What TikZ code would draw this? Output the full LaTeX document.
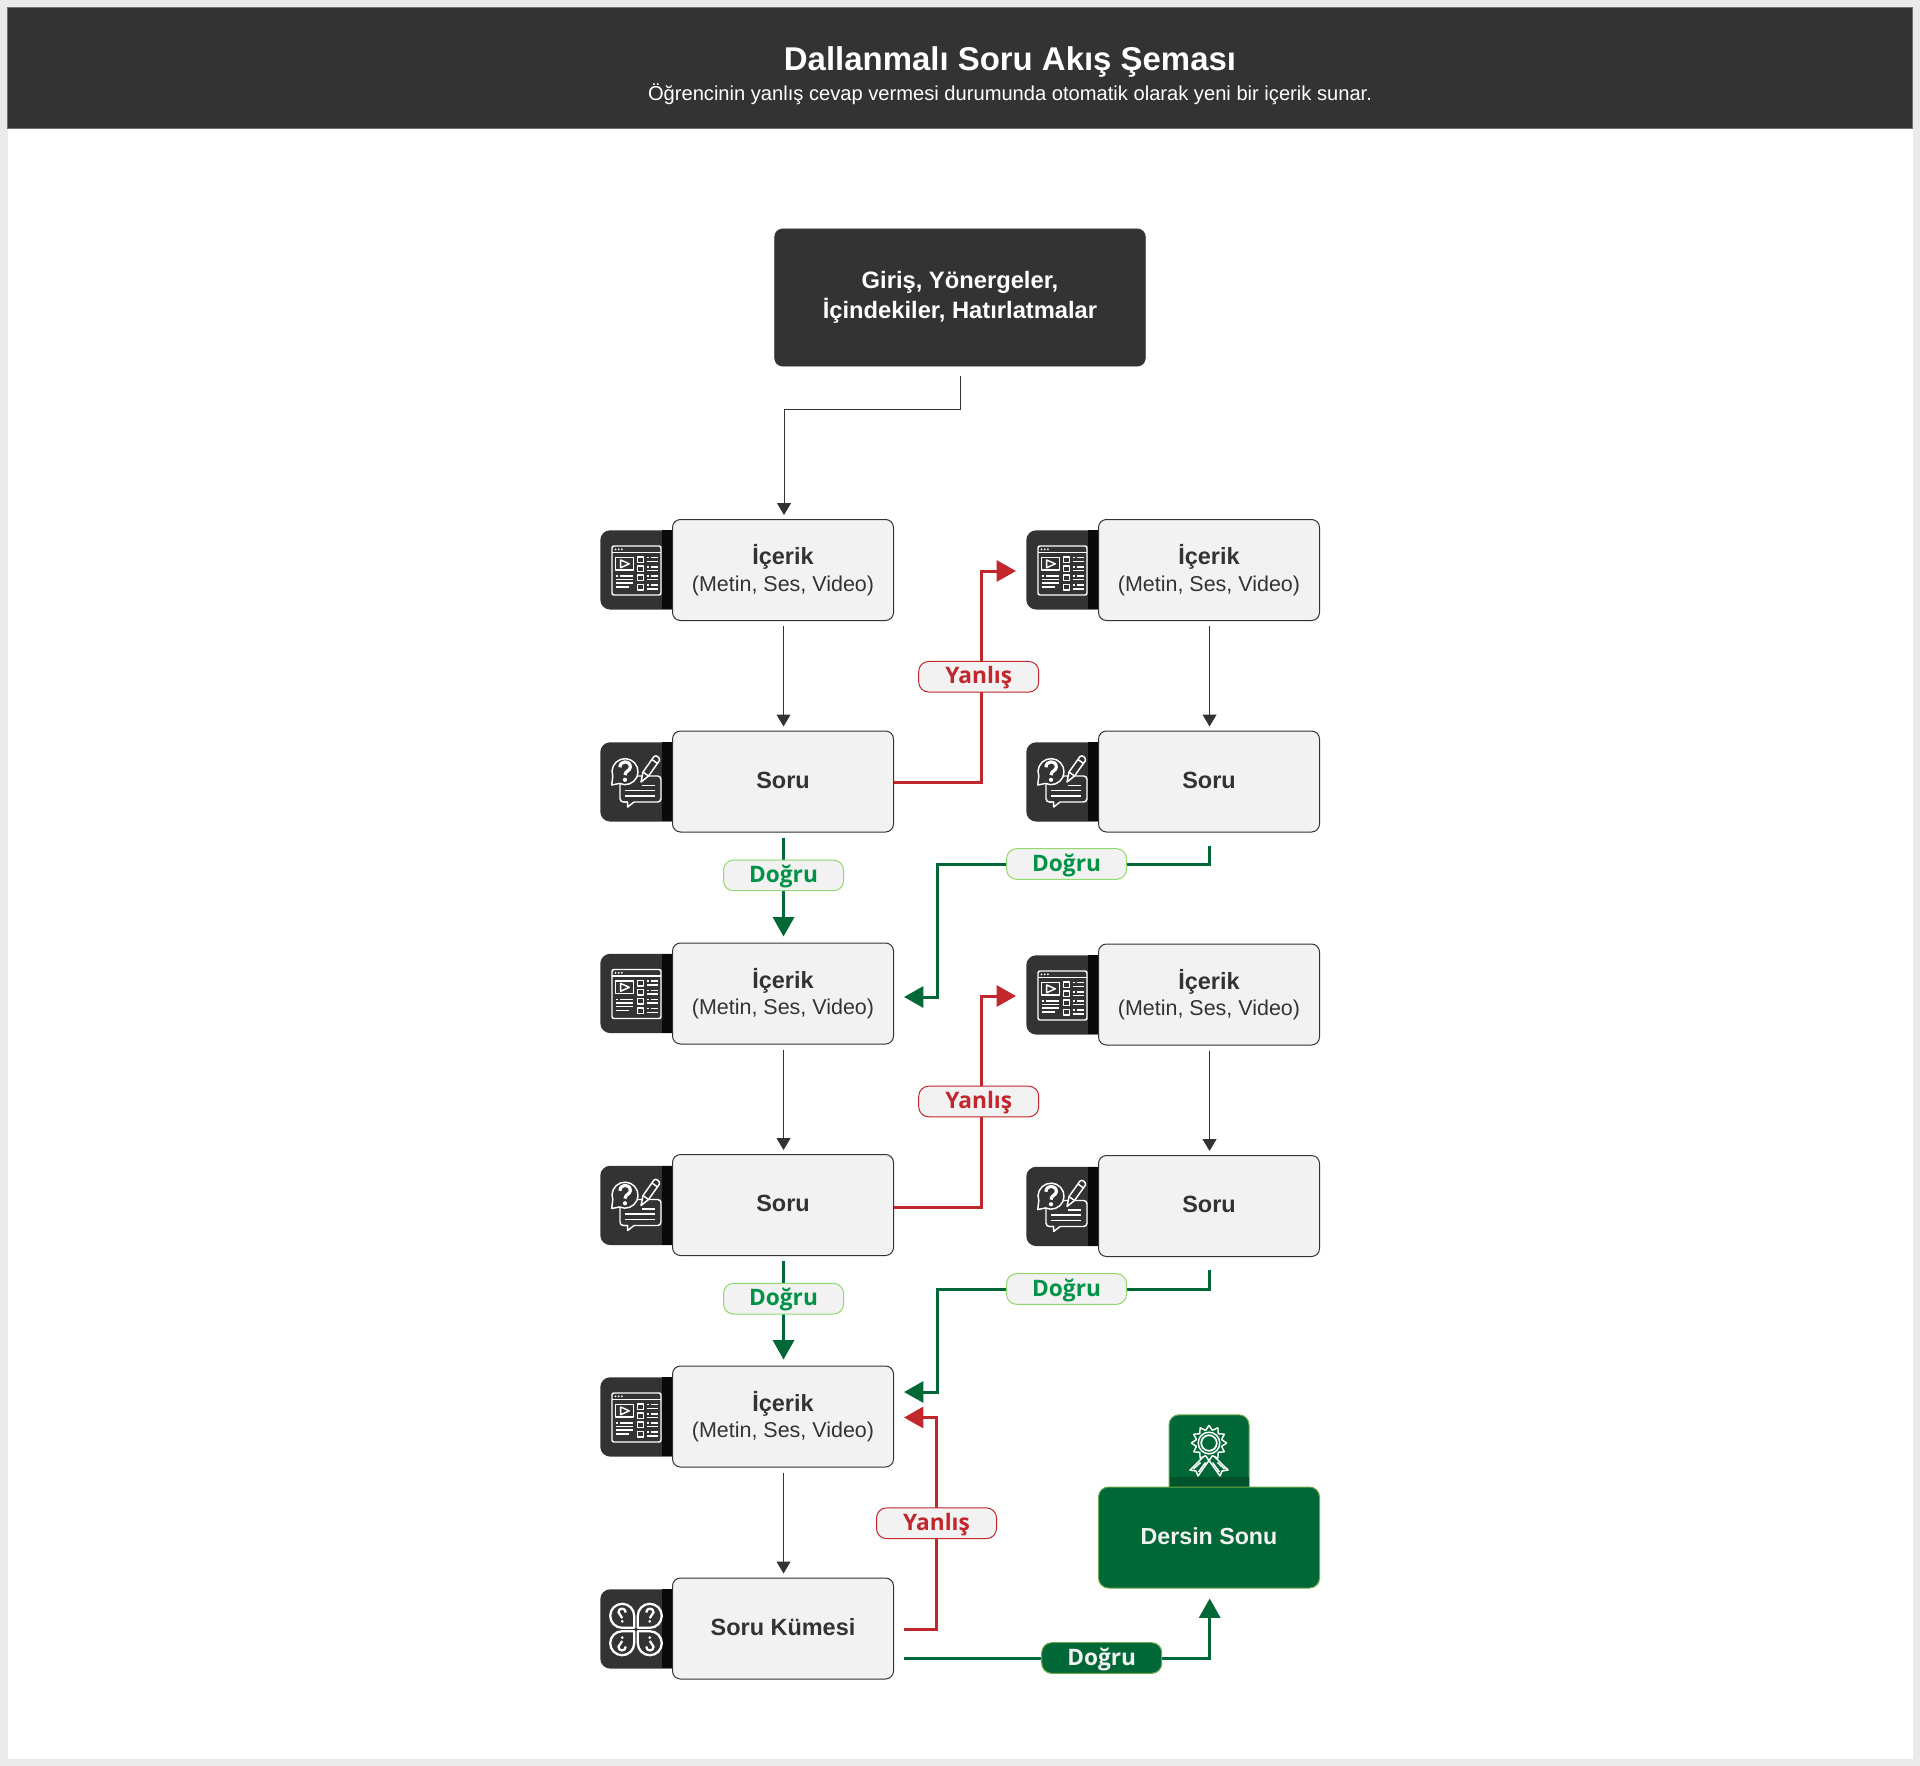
\documentclass[tikz,border=0pt]{standalone}
\usepackage{fontspec}
\setmainfont{Liberation Sans}
\newfontfamily\labelfont{Open Sans}
\usetikzlibrary{arrows.meta,calc}
\definecolor{dark}{HTML}{333333}
\definecolor{strip}{HTML}{0A0A0A}
\definecolor{boxfill}{HTML}{F2F2F2}
\definecolor{pagebg}{HTML}{EAEAEA}
\definecolor{forest}{HTML}{006837}
\definecolor{forestdk}{HTML}{00522C}
\definecolor{olive}{HTML}{6FA84B}
\definecolor{lime}{HTML}{8FD96F}
\definecolor{okgreen}{HTML}{009245}
\definecolor{wrong}{HTML}{C1272D}
\newcommand\fs[2]{\fontsize{#1}{#2}\selectfont}
\newcommand\qmk[4]{% x, y, scale, width
  \begin{scope}[shift={(#1,#2)},scale=#3]
    \draw[iconline,line width=#4] (-3.6,-3) .. controls (-3.6,-8.2) and (3.8,-8.2) .. (3.8,-3.2) .. controls (3.8,-0.4) and (0,-0.6) .. (0,2.6);
    \fill[white] (0,5.9) circle (1.5);
  \end{scope}}
\newcommand\tilerow[4]{% name, x, y, pic
  \node[tile,anchor=north west] (#1) at (#2,#3) {};
  \pic at (#2,#3) {#4};}
\newcommand\content{İçerik\\[-1.2pt]{\mdseries\fs{16.1}{21}(Metin, Ses, Video)}}
\tikzset{
  x=.75pt,y=-.75pt,
  iconline/.style={draw=white,line width=1.1pt,line join=round},
  tile/.style={fill=dark,rounded corners=7.5pt,minimum width=63pt,minimum height=59.5pt,inner sep=0pt},
  cardbox/.style={draw=dark,fill=boxfill,line width=.75pt,rounded corners=6pt,minimum width=165.75pt,minimum height=75.75pt,inner sep=0pt,align=center,text=dark,font=\fs{17.6}{21}\bfseries},
  oneline/.style={text depth=2.4pt},
  endbox/.style={draw=olive,fill=forest,line width=.75pt,rounded corners=7.5pt,minimum width=165.75pt,minimum height=75.75pt,inner sep=0pt,text=boxfill,font=\fs{17.4}{21}\bfseries},
  startbox/.style={draw=dark,fill=dark,rounded corners=6pt,minimum width=278pt,minimum height=103pt,inner sep=0pt,align=center,text=white,font=\fs{17.8}{22.5}\bfseries},
  thinflow/.style={draw=dark,line width=.75pt,-{Triangle[length=9pt,width=10.5pt]}},
  goodflow/.style={draw=forest,line width=2.25pt,-{Triangle[length=14.5pt,width=15.75pt]}},
  badflow/.style={draw=wrong,line width=2.25pt,-{Triangle[length=14.5pt,width=15.75pt]}},
  pilltag/.style={rounded corners=7.5pt,line width=.75pt,minimum width=90pt,minimum height=23pt,inner sep=0pt,text height=14.5pt,text depth=4pt,font=\labelfont\fs{17}{20}\bfseries},
  goodtag/.style={pilltag,draw=lime,fill=boxfill,text=okgreen},
  badtag/.style={pilltag,draw=wrong,fill=boxfill,text=wrong},
  endtag/.style={pilltag,draw=olive,fill=forest,text=boxfill},
  videoicon/.pic={
    \fill[strip] (62,0) rectangle (72,79.3);
    \draw[iconline,rounded corners=1.5pt] (12,16) rectangle (61,65);
    \draw[iconline] (12,22.5) -- (61,22.5);
    \foreach \dx in {15.5,18.7,21.9} \fill[white] (\dx,19.3) circle (1);
    \draw[iconline] (15.7,27.7) rectangle (33.3,40);
    \draw[iconline] (20.7,30) -- (20.7,37.7) -- (29.3,33.8) -- cycle;
    \foreach \sy in {27,36.2,45.2,54.6}{
      \draw[iconline] (37.7,\sy) rectangle (43.3,\sy+5.3);
      \draw[iconline] (46.7,\sy+.6) -- (49,\sy+.6) (50.5,\sy+.6) -- (57.7,\sy+.6);
      \draw[iconline] (46.7,\sy+4.4) -- (57.7,\sy+4.4);
    }
    \draw[iconline] (19.5,46) -- (33.3,46) (15.7,46) -- (17.6,46);
    \draw[iconline] (15.7,49.4) -- (33.3,49.4) (15.7,52.8) -- (33.3,52.8) (15.7,56.8) -- (29,56.8);
  },
  askicon/.pic={
    \fill[strip] (62,0) rectangle (72,79.3);
    \draw[iconline,rounded corners=2.5pt] (20,34) -- (61,34) -- (61,60) -- (34,60);
    \draw[iconline] (34,60) -- (27.7,65) -- (27.7,60) -- (23,60);
    \draw[iconline,rounded corners=2.5pt] (27.7,60) -- (20,60) -- (20,34);
    \draw[iconline] (41.5,43.7) -- (55,43.7) (25,48.7) -- (55,48.7) (25,54) -- (55,54);
    \filldraw[iconline,fill=dark] (12.8,34.1) arc[start angle=160,end angle=475,radius=13] -- (11.7,43) -- cycle;
    \filldraw[iconline,fill=dark] (41,40) -- (43,30) -- (54,14.5) .. controls (56,12.5) and (60,15.5) .. (59.5,18.5) -- (48.5,34) -- cycle;
    \draw[iconline] (43,30) -- (48.5,34) (52,17.5) -- (57.5,21.5);
    \qmk{25}{29.5}{1.4}{2.4pt}
  },
  setpetal/.pic={
    \draw[iconline,line width=1.7pt,rounded corners=9pt,line cap=round] (0,0) -- (24,0) -- (24,-24) -- (0,-24) -- (0,0);
    \qmk{12}{-12.3}{1}{1.7pt}
  },
  seticon/.pic={
    \fill[strip] (62,0) rectangle (72,79.3);
    \pic at (37.8,38.8) {setpetal};
    \pic[xscale=-1] at (34.2,38.8) {setpetal};
    \pic[yscale=-1] at (37.8,42.2) {setpetal};
    \pic[xscale=-1,yscale=-1] at (34.2,42.2) {setpetal};
  },
  ribbon/.pic={
    \draw[iconline] (-5.5,13.7) -- (-19,27) -- (-13,28) -- (-11,33) -- (1,16);
    \draw[iconline] (-8.5,19.5) -- (-15.5,26) (-3.5,19.5) -- (-10.5,29);
  },
  awardicon/.pic={
    \fill[forestdk] (-39.5,34) rectangle (39.5,44);
    \draw[iconline] plot[smooth cycle,tension=.25] coordinates {
      (0:17.5) (15:13.2) (30:17.5) (45:13.2) (60:17.5) (75:13.2) (90:17.5) (105:13.2) (120:17.5) (135:13.2) (150:17.5) (165:13.2)
      (180:17.5) (195:13.2) (210:17.5) (225:13.2) (240:17.5) (255:13.2) (270:17.5) (285:13.2) (300:17.5) (315:13.2) (330:17.5) (345:13.2)};
    \draw[iconline] (0,0) circle (10.8);
    \draw[iconline,line width=1.3pt] (0,0) circle (7.8);
    \pic {ribbon};
    \pic[xscale=-1] {ribbon};
  }
}
\begin{document}
\begin{tikzpicture}
\useasboundingbox (0,0) rectangle (1920,1766);
\fill[pagebg] (0,0) rectangle (1920,1766);
\fill[white] (7.5,7.5) rectangle (1912.5,1758.5);
\filldraw[fill=dark,draw=dark!70!white,line width=.75pt] (7.5,7.5) rectangle (1912.5,128.5);
\node[text=white,font=\fs{24.7}{28}\bfseries,inner sep=0pt] (title) at (1010,61.5) {Dallanmalı Soru Akış Şeması};
\node[text=white,font=\fs{15.1}{17},inner sep=0pt] (subtitle) at (1010,94) {Öğrencinin yanlış cevap vermesi durumunda otomatik olarak yeni bir içerik sunar.};

\node[startbox] (start) at (960,297.5) {Giriş, Yönergeler,\\İçindekiler, Hatırlatmalar};

% left column
\tilerow{i1}{600}{530}{videoicon}
\node[cardbox] (c1) at (783,570) {\content};
\tilerow{i2}{600}{742}{askicon}
\node[cardbox,oneline] (s1) at (783,781.5) {Soru};
\tilerow{i3}{600}{953.5}{videoicon}
\node[cardbox] (c2) at (783,993.5) {\content};
\tilerow{i4}{600}{1165.5}{askicon}
\node[cardbox,oneline] (s2) at (783,1205) {Soru};
\tilerow{i5}{600}{1377}{videoicon}
\node[cardbox] (c3) at (783,1416.5) {\content};
\tilerow{i6}{600}{1589}{seticon}
\node[cardbox,oneline] (s3) at (783,1628.5) {Soru Kümesi};

% right column
\tilerow{j1}{1026}{530}{videoicon}
\node[cardbox] (d1) at (1209,570) {\content};
\tilerow{j2}{1026}{742}{askicon}
\node[cardbox,oneline] (t1) at (1209,781.5) {Soru};
\tilerow{j3}{1026}{955}{videoicon}
\node[cardbox] (d2) at (1209,994.5) {\content};
\tilerow{j4}{1026}{1166.5}{askicon}
\node[cardbox,oneline] (t2) at (1209,1206) {Soru};

% end
\node[draw=olive,fill=forest,line width=.75pt,rounded corners=7.5pt,minimum width=60pt,minimum height=64pt,inner sep=0pt] (endtab) at (1209,1457.5) {};
\pic at (1209,1443) {awardicon};
\node[endbox,oneline] (finish) at (1209,1537.5) {Dersin Sonu};

% thin connectors
\coordinate (t1b) at (960,409);
\coordinate (t2b) at (784,409);
\draw[thinflow,shorten <=7.5pt,shorten >=3pt] (start.south) -- (t1b) -- (t2b) -- (c1.north -| t2b);
\foreach \u/\v in {c1/s1,c2/s2,c3/s3,d1/t1,d2/t2}
  \draw[thinflow,shorten <=3.75pt,shorten >=3pt] ([xshift=.4pt]\u.south) -- ([xshift=.4pt]\v.north);

% correct
\draw[goodflow,shorten <=3.75pt,shorten >=4.5pt] ([xshift=.4pt]s1.south) -- node[goodtag,pos=.39]{Doğru} ([xshift=.4pt]c2.north);
\draw[goodflow,shorten <=3.75pt,shorten >=4.5pt] ([xshift=.4pt]s2.south) -- node[goodtag,pos=.39]{Doğru} ([xshift=.4pt]c3.north);
\coordinate (g1a) at (1209.7,864); \coordinate (g1b) at (937,864); \coordinate (g1c) at (937,997);
\draw[goodflow,shorten <=9.75pt,shorten >=7.5pt] (g1a |- t1.south) -- (g1a) -- node[goodtag,pos=.525]{Doğru} (g1b) -- (g1c) -- (g1c -| c2.east);
\coordinate (g2a) at (1209.7,1289); \coordinate (g2b) at (937,1289); \coordinate (g2c) at (937,1392);
\draw[goodflow,shorten <=9.75pt,shorten >=7.5pt] (g2a |- t2.south) -- (g2a) -- node[goodtag,pos=.525]{Doğru} (g2b) -- (g2c) -- (g2c -| c3.east);
\coordinate (g3s) at (894,1658); \coordinate (g3a) at (1209.7,1658);
\draw[goodflow,shorten <=7.5pt,shorten >=7.5pt] (g3s) -- node[endtag,pos=.658]{Doğru} (g3a) -- (finish.south -| g3a);

% wrong
\coordinate (r1a) at (981,782.5); \coordinate (r1b) at (981,571);
\draw[badflow,shorten >=7.5pt] (s1.east |- r1a) -- (r1a) -- node[badtag,xshift=-1.7pt]{Yanlış} (r1b) -- (r1b -| j1.west);
\coordinate (r2a) at (981,1207); \coordinate (r2b) at (981,996);
\draw[badflow,shorten >=7.5pt] (s2.east |- r2a) -- (r2a) -- node[badtag,xshift=-1.7pt]{Yanlış} (r2b) -- (r2b -| j3.west);
\coordinate (r3a) at (936.5,1629); \coordinate (r3b) at (936.5,1417.5);
\draw[badflow,shorten <=7.5pt,shorten >=7.5pt] (s3.east |- r3a) -- (r3a) -- node[badtag]{Yanlış} (r3b) -- (r3b -| c3.east);
\end{tikzpicture}
\end{document}
